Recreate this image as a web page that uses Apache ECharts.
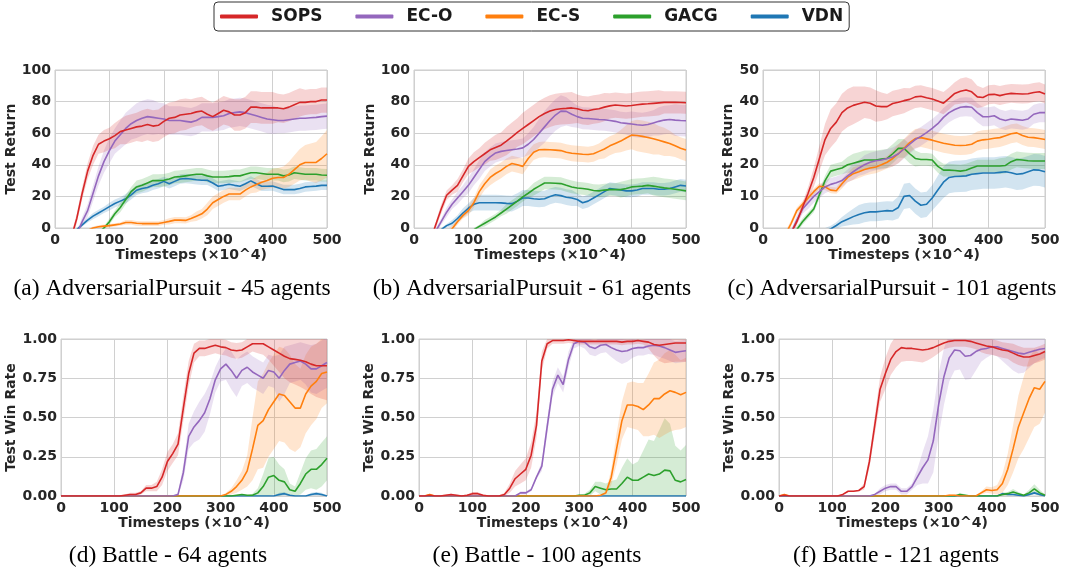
<!DOCTYPE html>
<html>
<head>
<meta charset="utf-8">
<script src="https://cdn.jsdelivr.net/npm/echarts@6/dist/echarts.min.js"></script>
<style>
  html, body { margin: 0; padding: 0; background: #fff; }
  #chart { width: 1065px; height: 573px; }
</style>
</head>
<body>
<div id="chart"></div>
<script>
// timesteps (x10^4)
var steps = [0,10,20,30,40,50,60,70,80,90,100, 110,120,130,140,150,160,170,180,190,200,
  210,220,230,240,250,260,270,280,290,300, 310,320,330,340,350,360,370,380,390,400,
  410,420,430,440,450,460,470,480,490,500];

var methods = ['SOPS', 'EC-O', 'EC-S', 'GACG', 'VDN'];

// (a) AdversarialPursuit - 45 agents
var aSops = [-40,-30,-20,-6,6,22,36,46,53,55,56.5, 58.5,61,62,63,64,64.5,65.5,64.5,65,67.5, 69.5,70,71.5,72,72.5,73.5,74,72,70.5,72.5, 74.5,73.5,71.5,71.5,73,76.5,76.5,76,76,76, 76,75.5,76.5,78,79.5,79.5,80,80,81,81];
var aSopsSd = [2,2,2,2,3,4,5,6,6,7,7, 8,8,9,9,9,10,10,10,10,10, 10,10,10,10,9,9,9,9,9,9, 9,9,10,10,10,10,10,10,10,10, 9,9,9,9,9,8,8,8,8,8];
var aEco = [-40,-30,-20,-12,-4,4,11,22,33,42,49, 55,59,63,66,68,69.5,70.5,70,69.5,69, 68,68,68,67.5,67,68,70,70,70,70.5, 71,72.5,73,73.5,73,72,71,70,69,68.5, 68,68,68.5,69,69.5,69.5,69.8,70,70.5,70.8];
var aEcoSd = [2,2,2,2,2,3,4,5,6,7,8, 8,9,10,10,11,11,11,11,10,10, 9,9,9,9,9,9,9,9,9,9, 9,9,9,9,9,9,9,9,9,9, 8,8,8,8,8,8,8,8,8,8];
var aEcs = [-20,-15,-10,-7,-5,-3,-1.5,0,0.8,1.2,1.5, 2,2.5,3.5,3.5,3,2.8,2.8,2.8,2.8,3.5, 4.2,5,5,4.8,6,7.5,9,12,16,18, 20,21.5,21.5,21.5,24,26,27.5,29,30,31.5, 32,32,34,37,40,41.5,41.5,41.5,44,47];
var aEcsSd = [1,1,1,1,1,1,1,1,1,1,1, 1,1,1.5,1.5,1.5,1.5,1.5,1.5,1.5,1.5, 2,2,2,2,2,3,3,4,4,4, 4,4,4,4,4,4,5,5,5,6, 6,7,8,9,10,11,12,13,14,15];
var aGacg = [-30,-25,-20,-16,-13,-10,-8,-6,-3,0,4, 9,13,18,23,26,27,28.5,30,30,30.2, 31,32.3,32.5,33,33.5,34,34,33,32.3,32.3, 32.3,32.5,33,33,34,35,35,34.5,34,34, 34,33,33.5,35,34.5,34,34,34,33.5,33.4];
var aGacgSd = [1,1,1,1,1,1,1,1,1,1,2, 2,3,3,3,4,4,4,4,4,4, 4,4,4,4,4,4,4,4,4,4, 4,4,4,4,4,4,4,4,4,4, 4,4,4,4,4,4,4,4,4,4];
var aVdn = [-20,-15,-10,-5,-1,2,5,7.5,9.5,11.5,13.5, 15.5,17,18.5,21,23.9,25,25.6,27,28,29.5, 28,29.5,31,31.3,31,30.5,30.2,30.2,28.5,26.4, 27,27.7,27,26.4,28,29.8,28,26.4,26.4,26.6, 25.5,24.3,24.3,24.3,25,26,26.3,26.5,27,27];
var aVdnSd = [1,1,1,1,1,1,1.5,2,2,2,2.5, 2.5,2.5,3,3,3,3,3,3,3,3, 3,3,3,3,3,3,3,3,3,3, 3,3,3,3,3,3,3,3,3,3, 3,3,3,3,3,3,3,3,3,3];

// (b) AdversarialPursuit - 61 agents
var bSops = [-40,-30,-20,-8,2,12,20.7,24,27,33,39, 42,44.5,47,49.5,51,52.4,55,57.7,60.5,63, 65.5,68,70.5,72.5,74,75,75.5,75.7,76,75.5, 74.5,74.2,75,75.5,76.5,77.3,77.8,77.5,77.2,77.5, 78,78.4,78.6,78.9,79.2,79.5,79.5,79.5,79.4,79.3];
var bSopsSd = [2,2,2,2,2,3,3,3,4,4,5, 6,6,7,7,8,8,9,9,9,10, 10,10,10,10,10,10,10,10,10,9, 9,9,9,9,9,8,8,8,8,8, 8,8,8,8,8,7,7,7,7,7];
var bEco = [-40,-30,-20,-10,-2,4,10,15,19,23,27, 32,37,42,45,47.5,48.5,49,49.5,50,50.7, 53,56,60,64,68,71.5,74,73.8,72,70.5, 69.5,69.3,69,68.7,68.5,68,67.5,66.6,66.2,65.8, 65.3,65,65.5,66.5,67.5,68.3,68.7,68.3,68,67.9];
var bEcoSd = [2,2,2,2,2,2,3,3,4,4,5, 5,6,6,6,6,6,6,6,6,6, 7,8,9,10,10,10,10,9,8,7, 7,7,7,7,7,7,7,7,7,8, 8,8,8,8,9,9,9,10,10,10];
var bEcs = [-30,-25,-20,-15,-10,-6,-3,-0.5,4,8,11, 16,23,28,32,34.5,36.5,39,40.8,40,39, 44,48,49.5,49.7,49.5,49.3,49,48,47.3,47, 46.7,46.5,47,48.5,50,52,53.5,55,57,58.8, 58.5,58,57.3,56.5,55.5,54.5,53.5,52,50.5,49.3];
var bEcsSd = [2,2,2,2,2,2,2,2,2,2,3, 3,4,4,5,5,5,5,5,5,5, 5,5,5,5,5,5,5,5,5,5, 5,5,5,5,6,6,6,7,8,9, 10,10,10,10,9,9,8,7,7,7];
var bGacg = [-30,-27,-24,-21,-18,-15,-12,-9,-7,-5,-3, -1,1,3,5,7,9.5,12,14.5,17,19.7, 22,24.5,26.5,28.5,28.5,28.3,28.1,27,26,25.3, 25,24.5,23.7,23.5,24,24.3,24.3,24.3,25,26, 26.3,26.5,27,26.5,26,25.4,25,24.5,24,23.5];
var bGacgSd = [1,1,1,1,1,1,1,1,1,1,1, 1,1,2,2,2,2,3,3,3,3, 3,4,4,4,4,4,4,4,4,4, 4,4,4,4,4,4,4,5,5,5, 5,5,5,6,6,6,6,6,6,6];
var bVdn = [-20,-16,-12,-8,-4,-1,1.5,3,6,9.5,12.5, 15,16,16,16,16,15.9,15.6,15.4,17,19, 19,18.5,18.2,18.5,20,21,20.5,19.5,19,18, 16,17,19,21,23,25,24.5,24,23.5,23.5, 24,25,25,25,24.5,24.5,25,26,27,26.6];
var bVdnSd = [1,1,1,1,1,1,1,2,2,3,3, 4,5,5,5,5,5,5,5,5,5, 5,5,5,5,5,5,5,5,5,4, 4,4,4,4,4,4,4,4,4,4, 4,4,4,4,4,4,4,4,4,4];

// (c) AdversarialPursuit - 101 agents
var cSops = [-20,-16,-12,-8,-4,-1.5,2,6.5,11,16,22, 28,31.5,33.5,36.5,38,38.8,39.3,39.8,39.5,38.6, 38.4,38.4,39.4,39.8,40.3,40.7,41.5,41.7,41.2,40.8, 40.2,39.5,41,42.6,43.3,43.7,43.1,41.5,41.3,42.2, 42.3,41.9,42.3,42.6,42.5,42.4,42.5,42.9,43.1,42.4];
var cSopsSd = [1,1,1,1,1,1,1,1.5,2,3,4, 5,6,6,6,6,6,5.5,5,5,5, 4.5,4,4,4,4,3.5,3.5,3.5,3.5,3.5, 3.5,3.5,3.5,3.5,4,4,4,3.5,3,3, 3,3,3,3,3,3,3,3,3,3];
var cEco = [-20,-16,-12,-8,-4,-1.5,2.5,6,8,10,11.5, 13,13.8,14.3,15,16.5,17.8,19,20,20.8,21.3, 21.5,22,22.5,23.5,25,26.5,28,29,30.2,31.5, 33,35,36.5,37.5,38.2,38.4,38.2,36.5,35.2,35.2, 35.5,34.5,34,34.5,34.3,34.1,34.5,36,36.5,36.5];
var cEcoSd = [1,1,1,1,1,1,1.5,1.5,2,2,2, 2,2,2,2,2,2.5,2.5,3,3,3, 3,3,3,3,3,3,3,3,3,3, 3,3,3,3,3,3,3,3,3,3, 3,3,3,3,3,3,3,3,3,3];
var cEcs = [-15,-12,-9,-6,-2,1.5,5.5,7.5,9.5,11.5,13.2, 13,12,11.8,14,16,17.2,17.8,18.5,19,19.3, 20,20.8,22,23.5,25.2,27,28.3,28.6,28.2,27.8, 27.3,26.8,26.5,26.2,26.1,26.2,26.5,27.5,27.9,28.1, 28.4,28.6,29.2,29.8,30.1,29.3,28.7,28.6,28.3,28];
var cEcsSd = [1,1,1,1,1,1,1,1,1,1,1, 1,1,1,1.5,1.5,2,2,2,2,2, 2,2,2.5,3,3,3,3,3,3,3, 3,3,3,3,3,3,3,3,3,3, 3,3,3,3,3,3,3,3,3,3];
var cGacg = [-15,-12,-9,-6,-4,-2,-0.5,2,4,6,10.5, 15,18,18.5,19,20,20.5,21,21.5,21.5,21.5, 21.8,22,23.5,25.2,25.2,23.5,22,21.7,21.7,21.5, 19.5,18.3,18.3,18.2,18,18.3,19,19.6,19.6,19.6, 19.6,19.6,19.8,21,21.7,21.5,21.3,21.2,21.2,21.2];
var cGacgSd = [1,1,1,1,1,1,1,1,1,1,1.5, 1.5,2,2,2,2.5,3,3,3,3,3, 3,3,3,3,3,3,2.5,2,2,2, 2,2,2,2,2,2,2,2,2,2, 2,2.5,2.5,2.5,2.5,2.5,2.5,2.5,2.5,2.5];
var cVdn = [-20,-18,-16,-14,-12,-10,-8,-6,-4.5,-3,-2, -1,-0.3,0.8,2,2.8,3.6,4.3,4.8,5.1,5.1, 5.3,5.5,5.4,6.5,10,10.3,8.5,7.2,7.5,9.5, 12,14.5,16,16.3,16.4,16.5,17,17.2,17.4,17.4, 17.4,17.6,17.8,17.5,17,17.2,17.8,18.4,18.3,17.8];
var cVdnSd = [1,1,1,1,1,1,1,1,1,1,1, 1,1,1,1.5,2,2.5,3,3,3,3, 3,3,3,3.5,4,4,4,4,4,4, 4.5,5,5,5,5,5,5,5,5,5, 5,5,5,5,5,5,5,5,5,5];

// (d) Battle - 64 agents
var dSops = [0,0,0,0,0,0,0,0,0,0,0, 0,0.005,0.01,0.01,0.02,0.05,0.05,0.06,0.12,0.22, 0.27,0.33,0.56,0.78,0.91,0.94,0.94,0.95,0.96,0.95, 0.945,0.93,0.925,0.93,0.95,0.97,0.97,0.97,0.95,0.93, 0.91,0.89,0.875,0.87,0.865,0.855,0.84,0.83,0.83,0.83];
var dSopsSd = [0,0,0,0,0,0,0,0,0,0,0, 0,0.005,0.01,0.01,0.01,0.02,0.02,0.03,0.05,0.06, 0.06,0.07,0.08,0.08,0.06,0.05,0.05,0.05,0.05,0.05, 0.05,0.05,0.05,0.05,0.05,0.05,0.06,0.07,0.08,0.1, 0.12,0.14,0.15,0.16,0.17,0.18,0.19,0.2,0.21,0.22];
var dEco = [0,0,0,0,0,0,0,0,0,0,0, 0,0,0,0,0,0,0,0,0,0, 0,0.01,0.15,0.38,0.44,0.48,0.53,0.62,0.74,0.81, 0.84,0.8,0.75,0.8,0.82,0.79,0.77,0.75,0.8,0.79, 0.75,0.8,0.84,0.85,0.86,0.84,0.81,0.81,0.83,0.85];
var dEcoSd = [0,0,0,0,0,0,0,0,0,0,0, 0,0,0,0,0,0,0,0,0,0, 0,0.01,0.05,0.08,0.1,0.12,0.12,0.1,0.08,0.08, 0.1,0.12,0.12,0.1,0.1,0.1,0.1,0.1,0.1,0.1, 0.15,0.15,0.12,0.12,0.12,0.13,0.15,0.16,0.16,0.16];
var dEcs = [0,0,0,0,0,0,0,0,0,0,0, 0,0,0,0,0,0,0,0,0,0, 0,0,0,0,0,0,0,0,0,0, 0.01,0.03,0.06,0.1,0.16,0.3,0.45,0.48,0.55,0.6, 0.65,0.64,0.6,0.56,0.56,0.65,0.7,0.73,0.78,0.79];
var dEcsSd = [0,0,0,0,0,0,0,0,0,0,0, 0,0,0,0,0,0,0,0,0,0, 0,0,0,0,0,0,0,0,0,0, 0.01,0.02,0.04,0.06,0.1,0.2,0.28,0.3,0.3,0.3, 0.3,0.3,0.3,0.28,0.25,0.25,0.25,0.24,0.22,0.2];
var dGacg = [0,0,0,0,0,0,0,0,0,0,0, 0,0,0,0,0,0,0,0,0,0, 0,0,0,0,0,0,0,0,0,0, 0,0,0.005,0.01,0.005,0.005,0.02,0.06,0.12,0.13, 0.1,0.09,0.04,0.03,0.08,0.14,0.17,0.17,0.2,0.24];
var dGacgSd = [0,0,0,0,0,0,0,0,0,0,0, 0,0,0,0,0,0,0,0,0,0, 0,0,0,0,0,0,0,0,0,0, 0,0,0,0,0,0.01,0.03,0.08,0.12,0.12, 0.1,0.08,0.04,0.03,0.07,0.1,0.12,0.13,0.14,0.14];
var dVdn = [0,0,0,0,0,0,0,0,0,0,0, 0,0,0,0,0,0,0,0,0,0, 0,0,0,0,0,0,0,0,0,0, 0,0,0,0,0,0,0,0,0,0, 0.01,0.015,0.005,0,0,0,0.01,0.015,0.01,0];
var dVdnSd = [0,0,0,0,0,0,0,0,0,0,0, 0,0,0,0,0,0,0,0,0,0, 0,0,0,0,0,0,0,0,0,0, 0,0,0,0,0,0,0,0,0,0, 0.01,0.01,0.005,0,0,0,0.01,0.01,0.01,0];

// (e) Battle - 100 agents
var eSops = [0,0,0.005,0,0,0.005,0.01,0.005,0,0.005,0.015, 0.015,0.005,0,0,0,0.01,0.05,0.11,0.14,0.17, 0.26,0.45,0.86,0.97,0.99,0.99,0.99,0.995,0.99,0.985, 0.985,0.985,0.985,0.985,0.985,0.985,0.985,0.98,0.985,0.985, 0.99,0.985,0.98,0.965,0.96,0.965,0.97,0.975,0.975,0.975];
var eSopsSd = [0.005,0.005,0.005,0.005,0.005,0.005,0.005,0.005,0.005,0.005,0.01, 0.01,0.005,0.005,0.005,0.005,0.01,0.03,0.05,0.06,0.07, 0.08,0.08,0.06,0.03,0.02,0.02,0.02,0.02,0.02,0.02, 0.02,0.02,0.02,0.02,0.02,0.02,0.02,0.02,0.02,0.02, 0.02,0.02,0.04,0.07,0.1,0.12,0.12,0.12,0.12,0.12];
var eEco = [0,0,0,0,0,0,0,0,0,0,0, 0,0,0,0,0,0,0,0,0.02,0.02, 0.04,0.12,0.19,0.44,0.68,0.77,0.71,0.87,0.97,0.985, 0.98,0.95,0.94,0.96,0.965,0.945,0.93,0.92,0.925,0.94, 0.945,0.945,0.955,0.96,0.955,0.945,0.93,0.915,0.92,0.925];
var eEcoSd = [0,0,0,0,0,0,0,0,0,0,0, 0,0,0,0,0,0,0,0,0.01,0.01, 0.01,0.01,0.03,0.05,0.05,0.05,0.05,0.05,0.03,0.03, 0.04,0.05,0.05,0.05,0.05,0.06,0.07,0.08,0.07,0.06, 0.05,0.05,0.05,0.06,0.07,0.07,0.07,0.07,0.07,0.07];
var eEcs = [0,0,0.01,0,0,0,0,0,0,0,0, 0,0,0,0,0,0,0,0,0,0, 0,0,0,0,0,0,0,0,0,0, 0,0,0,0.005,0.02,0.12,0.3,0.48,0.58,0.58, 0.57,0.55,0.58,0.62,0.62,0.65,0.67,0.66,0.645,0.66];
var eEcsSd = [0,0,0.005,0,0,0,0,0,0,0,0, 0,0,0,0,0,0,0,0,0,0, 0,0,0,0,0,0,0,0,0,0, 0,0,0,0,0.01,0.05,0.1,0.12,0.14,0.15, 0.15,0.17,0.2,0.23,0.25,0.26,0.26,0.24,0.22,0.22];
var eGacg = [0,0,0,0,0,0,0,0,0,0,0, 0,0,0,0,0,0,0,0,0,0, 0,0,0,0,0,0,0,0,0,0.005, 0.005,0.02,0.06,0.05,0.04,0.045,0.045,0.08,0.12,0.1, 0.1,0.12,0.14,0.13,0.14,0.165,0.16,0.1,0.09,0.105];
var eGacgSd = [0,0,0,0,0,0,0,0,0,0,0, 0,0,0,0,0,0,0,0,0,0, 0,0,0,0,0,0,0,0,0,0.005, 0.01,0.02,0.03,0.04,0.04,0.05,0.06,0.1,0.12,0.1, 0.12,0.17,0.22,0.22,0.28,0.33,0.3,0.22,0.2,0.22];
var eVdn = [0,0,0,0,0,0,0,0,0,0,0, 0,0,0,0,0,0,0,0,0,0, 0,0,0,0,0,0,0,0,0,0, 0,0,0,0,0,0,0,0,0,0, 0,0,0,0,0,0,0,0,0,0];
var eVdnSd = [0,0,0,0,0,0,0,0,0,0,0, 0,0,0,0,0,0,0,0,0,0, 0,0,0,0,0,0,0,0,0,0, 0,0,0,0,0,0,0,0,0,0, 0,0,0,0,0,0,0,0,0,0];

// (f) Battle - 121 agents
var fSops = [0,0.005,0,0,0,0,0,0,0,0,0, 0,0.01,0.03,0.03,0.035,0.06,0.22,0.45,0.68,0.78, 0.87,0.92,0.945,0.94,0.94,0.935,0.93,0.935,0.945,0.96, 0.975,0.985,0.99,0.99,0.99,0.985,0.975,0.965,0.955,0.95, 0.94,0.93,0.925,0.91,0.895,0.885,0.885,0.895,0.905,0.92];
var fSopsSd = [0,0.005,0,0,0,0,0,0,0,0,0, 0,0.005,0.005,0.005,0.005,0.02,0.04,0.06,0.08,0.1, 0.1,0.1,0.09,0.08,0.08,0.08,0.08,0.07,0.06,0.05, 0.04,0.04,0.04,0.04,0.04,0.04,0.04,0.05,0.05,0.05, 0.05,0.05,0.05,0.06,0.06,0.06,0.06,0.05,0.05,0.05];
var fEco = [0,0,0,0,0,0,0,0,0,0,0, 0,0,0,0,0,0,0,0.01,0.03,0.05, 0.06,0.06,0.03,0.03,0.06,0.12,0.18,0.23,0.35,0.58, 0.76,0.88,0.93,0.925,0.89,0.895,0.92,0.935,0.94,0.95, 0.95,0.94,0.93,0.92,0.91,0.905,0.915,0.925,0.935,0.94];
var fEcoSd = [0,0,0,0,0,0,0,0,0,0,0, 0,0,0,0,0,0,0,0.005,0.02,0.02, 0.02,0.02,0.02,0.02,0.02,0.05,0.1,0.15,0.2,0.2, 0.18,0.15,0.13,0.12,0.15,0.15,0.12,0.08,0.06,0.05, 0.06,0.08,0.1,0.12,0.13,0.12,0.1,0.08,0.07,0.06];
var fEcs = [0,0.01,0,0,0,0,0,0,0,0,0, 0,0,0,0,0,0,0,0,0,0, 0,0,0,0,0,0,0,0,0,0, 0,0.005,0.005,0,0,0,0,0.02,0.04,0.035, 0.04,0.08,0.17,0.3,0.44,0.53,0.62,0.69,0.68,0.73];
var fEcsSd = [0,0.005,0,0,0,0,0,0,0,0,0, 0,0,0,0,0,0,0,0,0,0, 0,0,0,0,0,0,0,0,0,0, 0,0.005,0.005,0,0,0,0,0.01,0.02,0.02, 0.03,0.06,0.1,0.15,0.2,0.23,0.25,0.25,0.22,0.2];
var fGacg = [0,0,0,0,0,0,0,0,0,0,0, 0,0,0,0,0,0,0,0,0,0, 0,0,0,0,0,0,0,0,0,0, 0,0,0,0.01,0.005,0,0,0,0,0, 0,0.01,0.015,0.025,0.015,0.005,0.02,0.045,0.02,0.005];
var fGacgSd = [0,0,0,0,0,0,0,0,0,0,0, 0,0,0,0,0,0,0,0,0,0, 0,0,0,0,0,0,0,0,0,0, 0,0,0,0.01,0.005,0,0,0,0,0, 0,0.01,0.01,0.02,0.01,0.005,0.02,0.03,0.02,0.005];
var fVdn = [0,0,0,0,0,0,0,0,0,0,0, 0,0,0,0,0,0,0,0,0,0, 0,0,0,0,0,0,0,0,0,0, 0,0,0,0,0,0,0,0,0,0, 0,0.015,0.01,0.01,0.005,0,0.01,0.02,0.01,0];
var fVdnSd = [0,0,0,0,0,0,0,0,0,0,0, 0,0,0,0,0,0,0,0,0,0, 0,0,0,0,0,0,0,0,0,0, 0,0,0,0,0,0,0,0,0,0, 0,0.005,0.005,0.005,0,0,0.005,0.01,0.005,0];

var colors = { 'SOPS': '#d62728', 'EC-O': '#9467bd', 'EC-S': '#ff7f0e', 'GACG': '#2ca02c', 'VDN': '#1f77b4' };

var panels = [
  { left: 55, top: 70, width: 272, height: 158, max: 100, interval: 20, yName: 'Test Return', nameGap: 37,
    caption: '(a) AdversarialPursuit - 45 agents', cx: 172, cy: 289,
    runs: { 'SOPS': [aSops, aSopsSd], 'EC-O': [aEco, aEcoSd], 'EC-S': [aEcs, aEcsSd], 'GACG': [aGacg, aGacgSd], 'VDN': [aVdn, aVdnSd] } },
  { left: 414, top: 70, width: 272, height: 158, max: 100, interval: 20, yName: 'Test Return', nameGap: 37,
    caption: '(b) AdversarialPursuit - 61 agents', cx: 532, cy: 289,
    runs: { 'SOPS': [bSops, bSopsSd], 'EC-O': [bEco, bEcoSd], 'EC-S': [bEcs, bEcsSd], 'GACG': [bGacg, bGacgSd], 'VDN': [bVdn, bVdnSd] } },
  { left: 763, top: 70, width: 282, height: 158, max: 50, interval: 10, yName: 'Test Return', nameGap: 26,
    caption: '(c) AdversarialPursuit - 101 agents', cx: 892, cy: 289,
    runs: { 'SOPS': [cSops, cSopsSd], 'EC-O': [cEco, cEcoSd], 'EC-S': [cEcs, cEcsSd], 'GACG': [cGacg, cGacgSd], 'VDN': [cVdn, cVdnSd] } },
  { left: 61, top: 339, width: 266, height: 157, max: 1, interval: 0.25, yName: 'Test Win Rate', nameGap: 42.5,
    caption: '(d) Battle - 64 agents', cx: 168, cy: 556,
    runs: { 'SOPS': [dSops, dSopsSd], 'EC-O': [dEco, dEcoSd], 'EC-S': [dEcs, dEcsSd], 'GACG': [dGacg, dGacgSd], 'VDN': [dVdn, dVdnSd] } },
  { left: 419, top: 339, width: 267, height: 157, max: 1, interval: 0.25, yName: 'Test Win Rate', nameGap: 41.5,
    caption: '(e) Battle - 100 agents', cx: 537, cy: 556,
    runs: { 'SOPS': [eSops, eSopsSd], 'EC-O': [eEco, eEcoSd], 'EC-S': [eEcs, eEcsSd], 'GACG': [eGacg, eGacgSd], 'VDN': [eVdn, eVdnSd] } },
  { left: 779, top: 339, width: 266, height: 157, max: 1, interval: 0.25, yName: 'Test Win Rate', nameGap: 41.5,
    caption: '(f) Battle - 121 agents', cx: 896, cy: 556,
    runs: { 'SOPS': [fSops, fSopsSd], 'EC-O': [fEco, fEcoSd], 'EC-S': [fEcs, fEcsSd], 'GACG': [fGacg, fGacgSd], 'VDN': [fVdn, fVdnSd] } }
];

var axisFont = { fontFamily: 'DejaVu Sans', fontWeight: 'bold', fontSize: 14, color: '#262626' };

// shaded mean +/- sd band as one polygon, placed with the panel's own axes
function bandItem(mean, sd, color) {
  return function (params, api) {
    if (params.dataIndex !== 0) return;
    var upper = [], lower = [];
    for (var k = 0; k < mean.length; k++) {
      upper.push(api.coord([steps[k], mean[k] + sd[k]]));
      lower.unshift(api.coord([steps[k], mean[k] - sd[k]]));
    }
    var cs = params.coordSys;
    return {
      type: 'polygon',
      shape: { points: upper.concat(lower) },
      style: { fill: color, opacity: 0.2 },
      clipPath: { type: 'rect', shape: { x: cs.x, y: cs.y, width: cs.width, height: cs.height } }
    };
  };
}

var grids = [], xAxes = [], yAxes = [], bandSeries = [], lineSeries = [], captions = [];

panels.forEach(function (p, i) {
  grids.push({ left: p.left, top: p.top, width: p.width, height: p.height, show: true,
    borderColor: '#cccccc', borderWidth: 1 });
  xAxes.push({
    type: 'value', gridIndex: i, min: 0, max: 500, interval: 100,
    name: 'Timesteps (\u00d710^4)', nameLocation: 'middle', nameGap: i < 3 ? 19 : 20,
    nameTextStyle: axisFont,
    axisLine: { show: false }, axisTick: { show: false },
    axisLabel: Object.assign({ margin: 5 }, axisFont),
    splitLine: { lineStyle: { color: '#d0d0d0', width: 1 } }
  });
  yAxes.push({
    type: 'value', gridIndex: i, min: 0, max: p.max, interval: p.interval,
    name: p.yName, nameLocation: 'middle', nameGap: p.nameGap,
    nameTextStyle: axisFont,
    axisLine: { show: false }, axisTick: { show: false },
    axisLabel: Object.assign({
      margin: 4,
      formatter: p.max === 1 ? function (v) { return v.toFixed(2); } : '{value}'
    }, axisFont),
    splitLine: { lineStyle: { color: '#d0d0d0', width: 1 } }
  });
  captions.push({
    type: 'text', x: p.cx, y: p.cy,
    style: { text: p.caption, fontFamily: 'Liberation Serif', fontSize: 23.5, fill: '#000',
      align: 'center', verticalAlign: 'middle' }
  });

  // VDN first so SOPS ends up on top
  methods.slice().reverse().forEach(function (m) {
    var mean = p.runs[m][0], sd = p.runs[m][1];
    bandSeries.push({
      type: 'custom', xAxisIndex: i, yAxisIndex: i, silent: true, z: 1,
      data: mean.map(function (v, k) { return [steps[k], v - sd[k], v + sd[k]]; }),
      encode: { x: 0, y: [1, 2] },
      renderItem: bandItem(mean, sd, colors[m])
    });
    lineSeries.push({
      type: 'line', name: m, xAxisIndex: i, yAxisIndex: i,
      data: mean.map(function (v, k) { return [steps[k], v]; }),
      symbol: 'none', color: colors[m],
      lineStyle: { color: colors[m], width: 1.6 }, itemStyle: { color: colors[m] }, z: 3
    });
  });
});

var chart = echarts.init(document.getElementById('chart'));
chart.setOption({
  animation: false,
  backgroundColor: '#ffffff',
  legend: {
    data: methods,
    left: 214, top: 2,
    itemWidth: 38, itemHeight: 4, itemGap: 33,
    icon: 'roundRect',
    borderColor: '#333333', borderWidth: 1, borderRadius: 4,
    padding: [6, 6, 6, 6],
    textStyle: { fontFamily: 'DejaVu Sans', fontWeight: 'bold', fontSize: 17, color: '#1a1a1a', padding: [0, 0, 0, 8] }
  },
  grid: grids,
  xAxis: xAxes,
  yAxis: yAxes,
  series: bandSeries.concat(lineSeries),
  graphic: captions
});
</script>
</body>
</html>
